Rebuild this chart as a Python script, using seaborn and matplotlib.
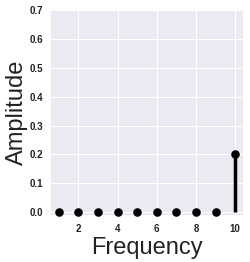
import matplotlib
matplotlib.use("Agg")
import matplotlib.pyplot as plt
import seaborn as sns
import pandas as pd

freq = [1, 2, 3, 4, 5, 6, 7, 8, 9, 10]
amp = [0, 0, 0, 0, 0, 0, 0, 0, 0, 0.2]
xticks = [2, 4, 6, 8, 10]
yticks = [0.0, 0.1, 0.2, 0.3, 0.4, 0.5, 0.6, 0.7]

sns.set_theme(style="darkgrid", rc={"grid.linewidth": 0.8})
plt.rcParams['font.family'] = ['Liberation Sans', 'DejaVu Sans']

df = pd.DataFrame({"Frequency": freq, "Amplitude": amp})

fig = plt.figure(figsize=(2.5, 2.62), dpi=100)
ax = fig.add_axes([0.2, 0.175, 0.776, 0.79])
ax.vlines(df["Frequency"], 0, df["Amplitude"], color="black", linewidth=2.5, zorder=3)
sns.scatterplot(data=df, x="Frequency", y="Amplitude", ax=ax, color="black",
                s=38, edgecolor="black", linewidth=0, zorder=4)
ax.set_xlim(0.55, 10.45)
ax.set_ylim(-0.014, 0.703)
ax.set_xticks(xticks)
ax.set_yticks(yticks)
ax.set_xticklabels([str(t) for t in xticks], fontsize=7, fontweight="bold", color="#222222")
ax.set_yticklabels([f"{t:.1f}" for t in yticks], fontsize=7, fontweight="bold", color="#222222")
ax.tick_params(axis="both", length=0)
ax.tick_params(axis="x", pad=6)
ax.tick_params(axis="y", pad=5)
ax.set_xlabel("Frequency", fontsize=17, labelpad=2, color="#222222")
ax.set_ylabel("Amplitude", fontsize=17, labelpad=1, color="#222222")

fig.savefig("out.png", dpi=100)
